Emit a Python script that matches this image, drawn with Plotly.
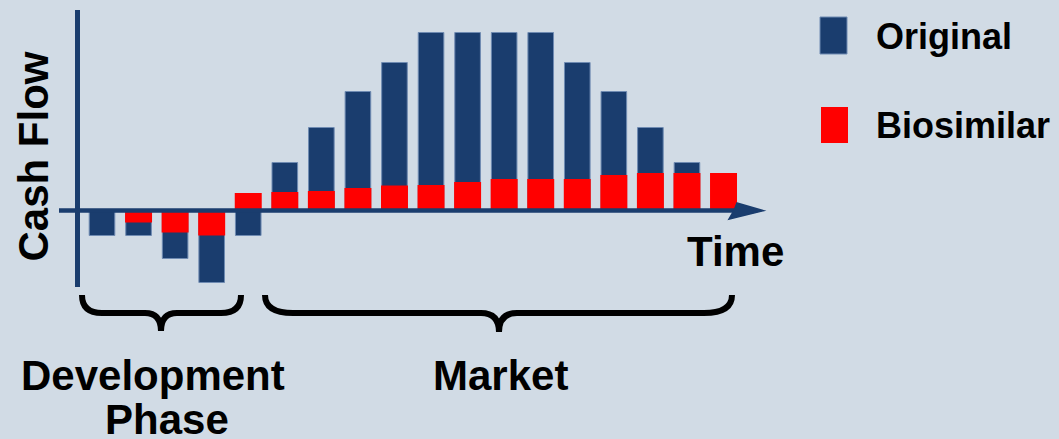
import plotly.graph_objects as go

# ---- data (cash flow, arbitrary units) ----
periods = list(range(18))
original = [-25, -25, -48, -72, -25, 48, 83, 119, 148, 178, 178, 178, 178, 148, 119, 83, 48, 0]
biosimilar = [0, -12, -22, -25, 17.5, 18.5, 19.5, 22.5, 25, 25.5, 28.5, 31.5, 31.5, 31.5, 35.5, 37.5, 37.5, 37.5]
series_names = ["Original", "Biosimilar"]
phase_labels = ["Development", "Phase", "Market"]
axis_labels = {"y": "Cash Flow", "x": "Time"}

W, H = 1059, 439
BG = "#d1dbe5"
BLUE = "#1a3d6e"
BLUE_EDGE = "#6f8bb2"
RED = "#ff0000"
FONT = "Liberation Sans, Arial, sans-serif"

def X(px):
    return px / W

def Y(py):
    return 1 - py / H

fig = go.Figure()
fig.add_trace(go.Bar(
    x=periods, y=original, name=series_names[0], width=0.70,
    marker=dict(color=BLUE, line=dict(color=BLUE_EDGE, width=1)),
))
fig.add_trace(go.Bar(
    x=periods, y=biosimilar, name=series_names[1], width=0.738,
    marker=dict(color=RED, line=dict(width=0)),
))

x0c, step = 102, 36.56
zero_py = 210.5

shapes = []
# y axis line
shapes.append(dict(type="line", xref="paper", yref="paper",
                   x0=X(77.5), x1=X(77.5), y0=Y(10), y1=Y(287),
                   line=dict(color=BLUE, width=5)))
# x axis line
shapes.append(dict(type="line", xref="paper", yref="paper",
                   x0=X(59), x1=X(748), y0=Y(zero_py), y1=Y(zero_py),
                   line=dict(color=BLUE, width=4.5)))
# arrow head
pts = [(737, 203), (763.5, 210.7), (729, 219), (734, 210.5)]
path = "M " + " L ".join(f"{X(a):.5f},{Y(b):.5f}" for a, b in pts) + " Z"
shapes.append(dict(type="path", xref="paper", yref="paper", path=path,
                   fillcolor=BLUE, line=dict(color=BLUE, width=1.5)))

def brace(xl, xr, xm, ytop, ymid, ytip, r, r2):
    P = lambda a, b: f"{X(a):.5f},{Y(b):.5f}"
    return (f"M {P(xl, ytop)} Q {P(xl, ymid)} {P(xl + r, ymid)} "
            f"L {P(xm - r2, ymid)} Q {P(xm, ymid)} {P(xm, ytip)} "
            f"M {P(xm, ytip)} Q {P(xm, ymid)} {P(xm + r2, ymid)} "
            f"L {P(xr - r, ymid)} Q {P(xr, ymid)} {P(xr, ytop)}")

shapes.append(dict(type="path", xref="paper", yref="paper",
                   path=brace(82, 241, 161, 295, 313, 331, 20, 16),
                   line=dict(color="black", width=6)))
shapes.append(dict(type="path", xref="paper", yref="paper",
                   path=brace(265, 732, 499, 295, 313, 332, 28, 18),
                   line=dict(color="black", width=6)))

# legend squares
shapes.append(dict(type="rect", xref="paper", yref="paper",
                   x0=X(820), x1=X(847), y0=Y(17), y1=Y(54),
                   fillcolor=BLUE, line=dict(color=BLUE_EDGE, width=1)))
shapes.append(dict(type="rect", xref="paper", yref="paper",
                   x0=X(821), x1=X(848), y0=Y(107), y1=Y(143),
                   fillcolor=RED, line=dict(width=0)))

ann = []
def text(t, px, py, size, xanchor="center", angle=0):
    ann.append(dict(text=f"<b>{t}</b>", x=X(px), y=Y(py), xref="paper", yref="paper",
                    xanchor=xanchor, yanchor="middle", showarrow=False, textangle=angle,
                    font=dict(family=FONT, size=size, color="black")))

text(series_names[0], 874, 36, 36, xanchor="left")
text(series_names[1], 874, 125, 36, xanchor="left")
text(axis_labels["y"], 32.5, 157, 42, angle=-90)
text(axis_labels["x"], 735.5, 251.5, 42)
text(phase_labels[0], 153, 375, 42)
text(phase_labels[1], 167, 419, 42)
text(phase_labels[2], 500, 375, 42)

fig.update_layout(
    width=W, height=H, margin=dict(l=0, r=0, t=0, b=0),
    paper_bgcolor=BG, plot_bgcolor=BG,
    barmode="overlay", showlegend=False,
    xaxis=dict(visible=False, range=[(0 - x0c) / step, (W - x0c) / step]),
    yaxis=dict(visible=False, range=[-(H - zero_py), zero_py]),
    shapes=shapes, annotations=ann,
)
fig.write_html("out.html")
